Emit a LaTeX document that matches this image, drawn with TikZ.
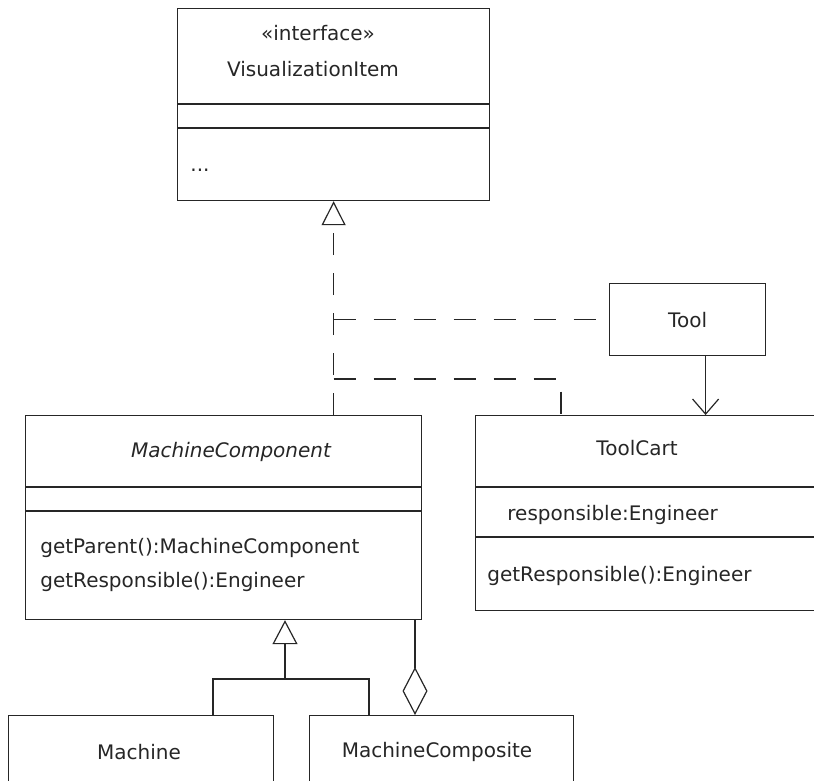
\documentclass[tikz,border=0pt]{standalone}
\usepackage{fontspec}
\setmainfont{DejaVu Sans}
\usetikzlibrary{positioning,arrows.meta,calc}
\tikzset{
  cls/.style   = {draw, anchor=north west, inner sep=0pt, line width=0.6pt},
  lbl/.style   = {font=\fontsize{10}{12}\selectfont, inner sep=0pt},
  ln/.style    = {line width=0.6pt},
  real/.style  = {ln, dash pattern=on 11pt off 9pt},
  inh/.style   = {ln, -{Triangle[open, length=12pt, width=12.5pt]}},
  agg/.style   = {ln, {Diamond[open, length=24pt, width=12.5pt]}-},
  nav/.style   = {ln, -{Straight Barb[length=7.5pt, width=13pt]}},
}
\begin{document}
\begin{tikzpicture}[x=0.5pt, y=-0.5pt, black!85]
\useasboundingbox (0,0) rectangle (814,781);
\clip (0,0) rectangle (814,781);

% classes
\node[cls, minimum width=156pt, minimum height=96pt] (vis) at (177,8) {};
\node[lbl] (visst) at (318,33) {«interface»};
\node[lbl] (visname) at (313,69) {VisualizationItem};
\node[lbl, anchor=west] (visops) at (190,170) {...};
\draw[ln] ($(vis.north west)+(0,96)$) -- ($(vis.north east)+(0,96)$);
\draw[ln] ($(vis.north west)+(0,120)$) -- ($(vis.north east)+(0,120)$);

\node[cls, minimum width=78pt, minimum height=36pt, font=\fontsize{10}{12}\selectfont] (tool) at (609,283) {Tool};

\node[cls, minimum width=178pt, minimum height=97.5pt] (cart) at (475,415) {};
\node[lbl] (cartname) at (637,448) {ToolCart};
\node[lbl, anchor=west] (cartattr) at (507,515) {responsible:Engineer};
\node[lbl, anchor=west] (cartops) at (487,576) {getResponsible():Engineer};
\draw[ln] ($(cart.north west)+(0,72)$) -- ($(cart.north east)+(0,72)$);
\draw[ln] ($(cart.north west)+(0,122)$) -- ($(cart.north east)+(0,122)$);

\node[cls, minimum width=198pt, minimum height=102pt] (comp) at (25,415) {};
\node[lbl, font=\fontsize{10}{12}\selectfont\itshape] (compname) at (231,452) {MachineComponent};
\node[lbl, anchor=west] (compop1) at (40,548) {getParent():MachineComponent};
\node[lbl, anchor=west] (compop2) at (40,582) {getResponsible():Engineer};
\draw[ln] ($(comp.north west)+(0,72)$) -- ($(comp.north east)+(0,72)$);
\draw[ln] ($(comp.north west)+(0,96)$) -- ($(comp.north east)+(0,96)$);

\node[cls, minimum width=132.5pt, minimum height=50pt] (mach) at (8,715) {};
\node[lbl] (machname) at (139,752) {Machine};
\node[cls, minimum width=132pt, minimum height=50pt] (mcomp) at (309,715) {};
\node[lbl] (mcompname) at (437,752) {MachineComposite};

% realizations
\draw[real, -{Triangle[open, length=12pt, width=12pt]}] (vis.south |- comp.north) -- (vis.south);
\draw[real] (tool.west -| vis.south) -- (tool.west);
\coordinate (cartlink) at ($(cart.north west)+(86,0)$);
\draw[real] (vis.south |- 0,379) -| (cartlink);

% navigation
\coordinate (navx) at ($(tool.south)+(18,0)$);
\draw[nav] (navx) -- (navx |- cart.north);

% generalization
\coordinate (genl) at (213,715);
\coordinate (genr) at (369,715);
\coordinate (genm) at (285,679);
\draw[ln] (genl) |- (genm) -| (genr);
\draw[inh] (genm) -- (genm |- comp.south);

% aggregation
\coordinate (aggx) at (415,715);
\draw[agg] (aggx) -- (aggx |- comp.south);
\end{tikzpicture}
\end{document}
